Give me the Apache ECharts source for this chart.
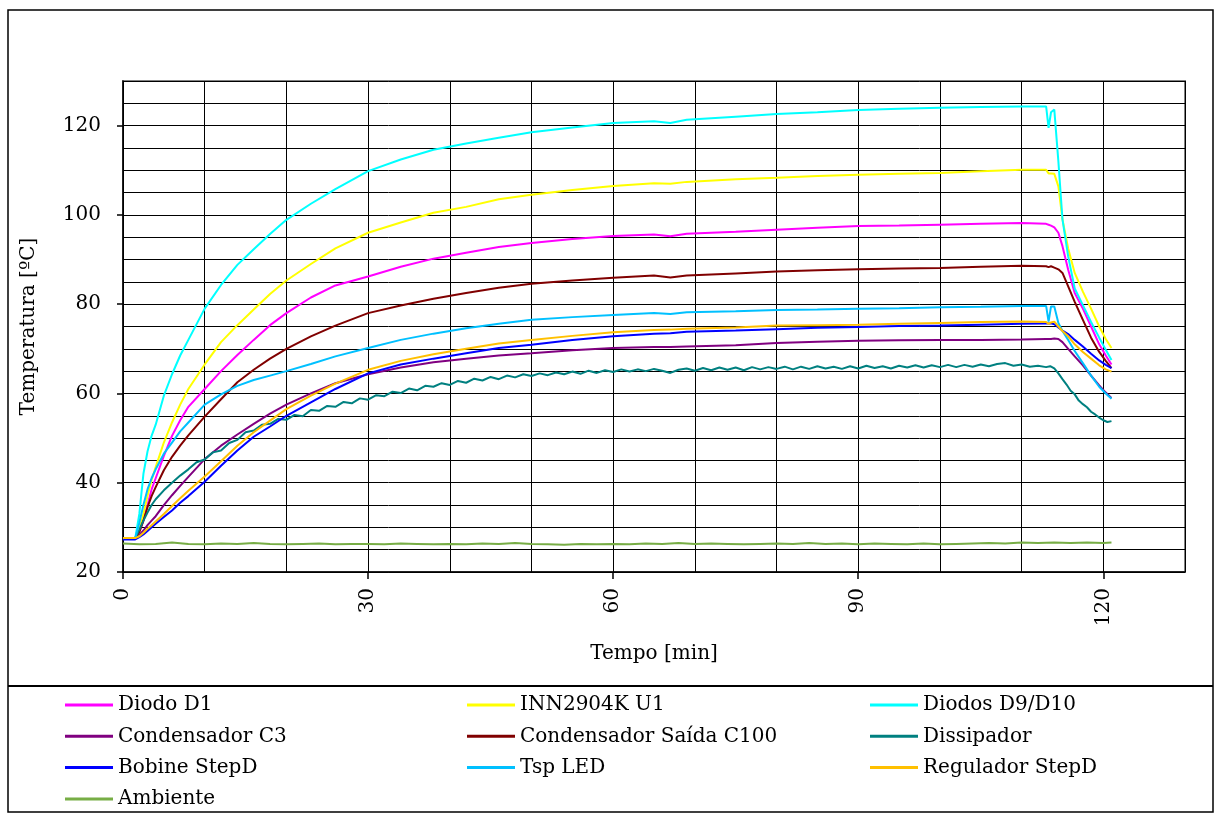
<!DOCTYPE html>
<html>
<head>
<meta charset="utf-8">
<script src="https://cdn.jsdelivr.net/npm/echarts@6/dist/echarts.min.js"></script>
<style>
  html, body { margin: 0; padding: 0; background: #ffffff; }
  #chart { width: 1216px; height: 819px; }
</style>
</head>
<body>
<div id="chart"></div>
<script>
// Sampling instants (minutes) shared by the smooth sensor curves
const minutes = [0, 1.5, 2, 2.5, 3, 3.5, 4, 5, 6, 7, 8, 10, 12, 14, 16, 18, 20, 23, 26, 30, 34, 38, 42, 46, 50,
  55, 60, 65, 67, 69, 75, 80, 85, 90, 95, 100, 105, 110, 113, 113.3, 113.6, 114, 114.5, 115, 115.7, 116.5,
  117.5, 118.5, 119.5, 120.3, 121];

// Temperatures in ºC
const diodoD1 = [27.6, 27.6, 29, 31.5, 35, 38.5, 41, 46, 50.5, 54, 57, 61, 65, 68.6, 72, 75.3, 78, 81.5, 84.2,
  86.2, 88.4, 90.2, 91.5, 92.8, 93.7, 94.6, 95.3, 95.6, 95.2, 95.8, 96.2, 96.7, 97.1, 97.5, 97.6, 97.8, 98,
  98.2, 98, 97.8, 97.6, 97.2, 96, 93, 87.7, 82.5, 79, 75, 71, 68.5, 66.5];
const inn2904k = [27.6, 27.6, 29.5, 33, 37, 40.6, 43.5, 49, 53.5, 57.5, 61, 66.5, 71.5, 75.3, 78.8, 82.3, 85.3,
  89, 92.5, 96, 98.3, 100.5, 101.8, 103.5, 104.5, 105.6, 106.5, 107.1, 107, 107.4, 108, 108.3, 108.7, 109,
  109.2, 109.4, 109.8, 110.1, 110.1, 109.3, 109.3, 109.2, 106.4, 99, 92.5, 87, 82.8, 79, 75, 72.2, 70.2];
const diodosD9D10 = [27.6, 27.6, 33, 42, 47, 50.5, 53, 59.5, 64.3, 68.5, 72, 79, 84.3, 88.8, 92.3, 95.7, 98.9,
  102.5, 105.8, 109.8, 112.4, 114.6, 116, 117.3, 118.5, 119.6, 120.6, 121, 120.6, 121.3, 122, 122.6, 123,
  123.5, 123.8, 124, 124.2, 124.3, 124.3, 119.5, 123, 123.6, 112, 99, 90.7, 83.5, 79.8, 76, 72.5, 69.8, 67.5];
const condensadorC3 = [27.6, 27.6, 28.3, 29.3, 30.5, 31.5, 32.5, 35, 37.2, 39.3, 41.3, 45.3, 48.3, 50.8, 53.2,
  55.5, 57.5, 60, 62.3, 64.3, 65.8, 67, 67.8, 68.5, 69, 69.7, 70.2, 70.4, 70.4, 70.5, 70.8, 71.3, 71.6, 71.8,
  71.9, 72, 72, 72.1, 72.2, 72.2, 72.2, 72.3, 72.2, 71.5, 70, 68.3, 66.3, 64, 61.8, 60.2, 59];
const condensadorC100 = [27.6, 27.6, 29, 31.5, 34.5, 37, 39, 42.8, 45.8, 48.3, 50.6, 54.8, 58.7, 62.5, 65.3,
  67.8, 70, 72.8, 75.2, 78, 79.7, 81.2, 82.5, 83.7, 84.6, 85.3, 85.9, 86.4, 86, 86.4, 86.9, 87.3, 87.6, 87.8,
  88, 88.1, 88.4, 88.6, 88.5, 88.3, 88.5, 88.2, 87.8, 87, 84, 80.5, 76.5, 72.5, 69.3, 67.3, 65.7];
const bobineStepD = [27.3, 27.3, 27.8, 28.4, 29.2, 30, 30.8, 32.3, 33.8, 35.5, 37, 40.2, 43.8, 47.2, 50.3,
  52.6, 55, 58, 61, 64.5, 66.5, 67.8, 69, 70.2, 70.9, 72, 72.8, 73.4, 73.5, 73.8, 74.1, 74.4, 74.7, 74.9, 75.1,
  75.2, 75.4, 75.6, 75.7, 75.7, 75.7, 75.5, 74.8, 74.1, 73.3, 72, 70.5, 68.9, 67.4, 66.4, 65.7];
const tspLED = [27.6, 27.6, 31, 35, 38.5, 41, 43, 46.5, 49, 51.5, 53.5, 57.5, 59.8, 61.7, 63, 64, 65, 66.6,
  68.3, 70.2, 72, 73.4, 74.6, 75.6, 76.5, 77.1, 77.6, 78, 77.8, 78.2, 78.4, 78.7, 78.8, 79, 79.1, 79.3, 79.4,
  79.6, 79.6, 76.1, 79.5, 79.5, 75.8, 74, 72, 69.5, 66.8, 64, 61.5, 60, 58.8];
const reguladorStepD = [27.6, 27.6, 28, 28.8, 29.7, 30.5, 31.3, 33, 34.8, 36.5, 38.2, 41.4, 44.8, 48.3, 51.3,
  53.9, 56.5, 59.5, 62.2, 65.3, 67.3, 68.8, 70, 71.2, 72, 72.9, 73.7, 74.2, 74.3, 74.5, 74.8, 75.2, 75.3, 75.4,
  75.6, 75.8, 76, 76.1, 76, 75.6, 75.9, 76.1, 75, 74, 72.8, 71, 69.3, 67.8, 66.3, 65.4, 64.9];

// Heat-sink probe is logged more densely (noisy trace)
const dissipadorMinutes = [0, 1.5, 2, 2.5, 3, 3.5, 4, 5, 6, 7, 8, 9, 10, 11, 12, 13, 14, 15, 16, 17, 18, 19, 20,
  21, 22, 23, 24, 25, 26, 27, 28, 29, 30, 31, 32, 33, 34, 35, 36, 37, 38, 39, 40, 41, 42, 43, 44, 45, 46, 47,
  48, 49, 50, 51, 52, 53, 54, 55, 56, 57, 58, 59, 60, 61, 62, 63, 64, 65, 66, 67, 68, 69, 70, 71, 72, 73, 74,
  75, 76, 77, 78, 79, 80, 81, 82, 83, 84, 85, 86, 87, 88, 89, 90, 91, 92, 93, 94, 95, 96, 97, 98, 99, 100, 101,
  102, 103, 104, 105, 106, 107, 108, 109, 110, 111, 112, 113, 113.5, 114, 114.5, 115, 115.5, 116, 116.5, 117,
  117.5, 118, 118.5, 119, 119.5, 120, 120.5, 121];
const dissipador = [27.6, 27.6, 29.5, 31.5, 33.3, 35, 36.3, 38.3, 40, 41.6, 43.0, 44.6, 45.2, 46.8, 47.2, 48.9,
  49.6, 51.3, 51.7, 53.0, 53.2, 54.3, 54.1, 55.2, 54.9, 56.3, 56.1, 57.2, 57.0, 58.1, 57.8, 58.9, 58.6, 59.6,
  59.4, 60.4, 60.1, 61.1, 60.7, 61.7, 61.5, 62.3, 61.9, 62.8, 62.4, 63.3, 62.9, 63.7, 63.2, 64.0, 63.6, 64.3,
  63.9, 64.5, 64.1, 64.7, 64.3, 64.9, 64.4, 65.1, 64.6, 65.2, 64.8, 65.4, 64.9, 65.4, 65.0, 65.5, 65.1, 64.6,
  65.3, 65.6, 65.1, 65.7, 65.2, 65.8, 65.3, 65.8, 65.2, 65.9, 65.4, 65.9, 65.5, 66.0, 65.4, 66.0, 65.5, 66.1,
  65.6, 66.0, 65.5, 66.1, 65.6, 66.2, 65.7, 66.1, 65.6, 66.2, 65.8, 66.3, 65.8, 66.3, 65.9, 66.4, 65.9, 66.4,
  66.0, 66.5, 66.1, 66.6, 66.8, 66.2, 66.5, 66.0, 66.2, 65.9, 66.1, 65.6, 64.5, 63.2, 62.0, 60.6, 59.8, 58.4,
  57.6, 56.9, 55.9, 55.3, 54.6, 54.0, 53.6, 53.8];

// Room temperature
const ambienteMinutes = [0, 2, 4, 6, 8, 10, 12, 14, 16, 18, 20, 22, 24, 26, 28, 30, 32, 34, 36, 38, 40, 42, 44,
  46, 48, 50, 52, 54, 56, 58, 60, 62, 64, 66, 68, 70, 72, 74, 76, 78, 80, 82, 84, 86, 88, 90, 92, 94, 96, 98,
  100, 102, 104, 106, 108, 110, 112, 114, 116, 118, 120, 121];
const ambiente = [26.4, 26.2, 26.3, 26.6, 26.3, 26.2, 26.4, 26.3, 26.5, 26.3, 26.2, 26.3, 26.4, 26.2, 26.3,
  26.3, 26.2, 26.4, 26.3, 26.2, 26.3, 26.2, 26.4, 26.3, 26.5, 26.3, 26.2, 26.1, 26.3, 26.2, 26.3, 26.2, 26.4,
  26.3, 26.5, 26.3, 26.4, 26.3, 26.2, 26.3, 26.4, 26.3, 26.5, 26.3, 26.4, 26.2, 26.4, 26.3, 26.2, 26.4, 26.2,
  26.3, 26.4, 26.5, 26.4, 26.6, 26.5, 26.6, 26.5, 26.6, 26.5, 26.6];

// Axis tick labels
const timeTicks = [0, 30, 60, 90, 120];
const tempTicks = [20, 40, 60, 80, 100, 120];

const FONT = 'DejaVu Serif';

function pairs(xs, ys) { return xs.map((x, i) => [x, ys[i]]); }

const seriesDefs = [
  { name: 'Diodo D1', color: '#ff00ff', x: minutes, y: diodoD1 },
  { name: 'INN2904K U1', color: '#ffff00', x: minutes, y: inn2904k },
  { name: 'Diodos D9/D10', color: '#00ffff', x: minutes, y: diodosD9D10 },
  { name: 'Condensador C3', color: '#800080', x: minutes, y: condensadorC3 },
  { name: 'Condensador Saída C100', color: '#800000', x: minutes, y: condensadorC100 },
  { name: 'Dissipador', color: '#008080', x: dissipadorMinutes, y: dissipador },
  { name: 'Bobine StepD', color: '#0000ff', x: minutes, y: bobineStepD },
  { name: 'Tsp LED', color: '#00c0ff', x: minutes, y: tspLED },
  { name: 'Regulador StepD', color: '#ffc000', x: minutes, y: reguladorStepD },
  { name: 'Ambiente', color: '#77ad45', x: ambienteMinutes, y: ambiente }
];

const legendColumns = [
  { left: 60, names: ['Diodo D1', 'Condensador C3', 'Bobine StepD', 'Ambiente'] },
  { left: 462, names: ['INN2904K U1', 'Condensador Saída C100', 'Tsp LED'] },
  { left: 865, names: ['Diodos D9/D10', 'Dissipador', 'Regulador StepD'] }
];

const axisText = { fontFamily: FONT, fontSize: 20, color: '#000' };

const chart = echarts.init(document.getElementById('chart'), null, { renderer: 'canvas' });

chart.setOption({
  animation: false,
  backgroundColor: '#ffffff',
  textStyle: { fontFamily: FONT },
  grid: {
    left: 123, right: 31, top: 81, bottom: 247,
    show: true, borderColor: '#808080', borderWidth: 2, backgroundColor: 'transparent'
  },
  graphic: [
    { type: 'rect', shape: { x: 8, y: 10, width: 1205, height: 802 },
      style: { fill: 'none', stroke: '#000', lineWidth: 1.5 }, silent: true },
    { type: 'line', shape: { x1: 8, y1: 686, x2: 1213, y2: 686 },
      style: { stroke: '#000', lineWidth: 2 }, silent: true }
  ],
  xAxis: [
    {
      // gridlines every 10 min
      type: 'value', min: 0, max: 130, interval: 10, position: 'bottom', offset: 0,
      axisLine: { show: true, onZero: false, lineStyle: { color: '#000', width: 1.5 } },
      axisTick: { show: false },
      axisLabel: { show: false },
      splitLine: { show: true, lineStyle: { color: '#000', width: 1 } }
    },
    {
      // labelled ticks every 30 min
      type: 'value', min: 0, max: 130, position: 'bottom', offset: 0,
      name: 'Tempo [min]', nameLocation: 'middle', nameGap: 72, nameTextStyle: axisText,
      axisLine: { show: false, onZero: false },
      axisTick: { show: true, length: 7, customValues: timeTicks, lineStyle: { color: '#000', width: 1.5 } },
      axisLabel: Object.assign({ customValues: timeTicks, rotate: 90, margin: 16 }, axisText),
      splitLine: { show: false }
    }
  ],
  yAxis: [
    {
      // gridlines every 5 ºC
      type: 'value', min: 20, max: 130, interval: 5, position: 'left', offset: 0,
      axisLine: { show: true, onZero: false, lineStyle: { color: '#000', width: 1.5 } },
      axisTick: { show: false },
      axisLabel: { show: false },
      splitLine: { show: true, lineStyle: { color: '#000', width: 1 } }
    },
    {
      // labelled ticks every 20 ºC
      type: 'value', min: 20, max: 130, position: 'left', offset: 0,
      name: 'Temperatura [ºC]', nameLocation: 'middle', nameGap: 84, nameTextStyle: axisText,
      axisLine: { show: false, onZero: false },
      axisTick: { show: true, length: 6, customValues: tempTicks, lineStyle: { color: '#000', width: 1.5 } },
      axisLabel: Object.assign({ customValues: tempTicks, margin: 22 }, axisText),
      splitLine: { show: false }
    }
  ],
  legend: legendColumns.map(col => ({
    orient: 'vertical', left: col.left, top: 690,
    icon: 'rect', itemWidth: 48, itemHeight: 3, itemGap: 11.3,
    textStyle: { fontFamily: FONT, fontSize: 20, color: '#000', lineHeight: 20 },
    selectedMode: false,
    data: col.names
  })),
  series: seriesDefs.map(s => ({
    name: s.name,
    type: 'line',
    xAxisIndex: 0,
    yAxisIndex: 0,
    data: pairs(s.x, s.y),
    symbol: 'none',
    smooth: false,
    color: s.color,
    itemStyle: { color: s.color },
    lineStyle: { color: s.color, width: 2 }
  }))
});
</script>
</body>
</html>
